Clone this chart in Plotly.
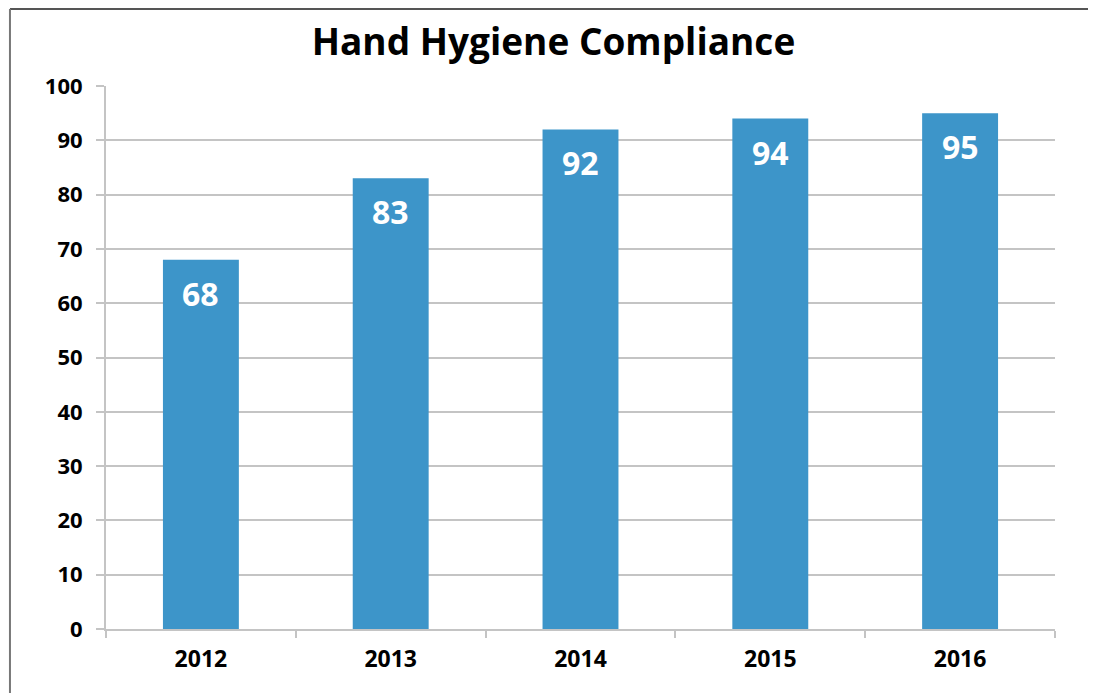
import plotly.graph_objects as go

years = ['2012', '2013', '2014', '2015', '2016']
compliance = [68, 83, 92, 94, 95]
y_ticks = [0, 10, 20, 30, 40, 50, 60, 70, 80, 90, 100]

BAR_COLOR = '#3d95c9'
GRID_COLOR = '#c4c4c4'
FONT = 'Open Sans, Noto Sans, sans-serif'

fig = go.Figure(go.Bar(
    x=years,
    y=compliance,
    marker=dict(color=BAR_COLOR, line=dict(width=0)),
    width=0.4,
    hoverinfo='skip',
))

# value labels inside the bars, a bit under the top edge
for i, value in enumerate(compliance):
    fig.add_annotation(
        x=i, y=value, text=f'<b>{value}</b>',
        showarrow=False, yanchor='top', yshift=-10,
        font=dict(family=FONT, size=32, color='white'),
    )

fig.update_layout(
    width=1096, height=693,
    margin=dict(l=98, r=49, t=78, b=72, autoexpand=False),
    paper_bgcolor='white',
    plot_bgcolor='white',
    showlegend=False,
    title=dict(
        text='<b>Hand Hygiene Compliance</b>',
        x=0.4977, xanchor='center', y=0.951, yanchor='middle',
        font=dict(family=FONT, size=37, color='black'),
    ),
    xaxis=dict(
        type='category',
        range=[-0.5, len(years) - 0.5],
        showgrid=False,
        showline=True, linecolor=GRID_COLOR, linewidth=2,
        ticks='outside', tickson='boundaries', ticklen=7,
        tickcolor=GRID_COLOR, tickwidth=2, tickangle=0,
        tickfont=dict(family=FONT, size=23, color='black', weight='bold'),
        ticklabelstandoff=8,
    ),
    yaxis=dict(
        range=[0, 100],
        tickvals=y_ticks,
        showgrid=True, gridcolor=GRID_COLOR, gridwidth=2,
        zeroline=False,
        showline=True, linecolor=GRID_COLOR, linewidth=2,
        ticks='outside', ticklen=8, tickcolor=GRID_COLOR, tickwidth=2,
        tickfont=dict(family=FONT, size=22, color='black', weight='bold'),
        ticklabelstandoff=9,
    ),
)

# slide frame: thin dark border on top and left
fig.add_shape(type='line', xref='paper', yref='paper',
              x0=-0.1012, x1=1.1, y0=1.142, y1=1.142,
              line=dict(color='#555555', width=2))
fig.add_shape(type='line', xref='paper', yref='paper',
              x0=-0.1012, x1=-0.1012, y0=1.142, y1=-0.2,
              line=dict(color='#777777', width=2))

fig.write_html('out.html')
